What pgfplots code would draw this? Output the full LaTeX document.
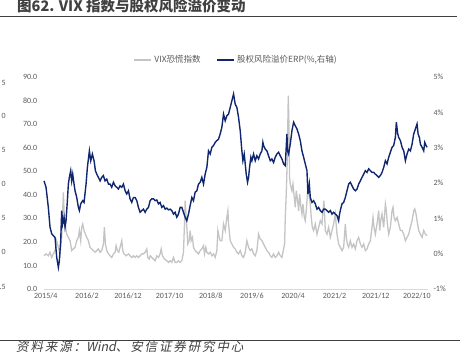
\documentclass[border=0pt]{standalone}
\usepackage{pgfplots}
\pgfplotsset{compat=1.18}
\usepackage{fontspec}
\setmainfont{Carlito}
\newfontfamily\cjk{Noto Sans CJK SC}
\newfontfamily\cjksrc[FakeSlant=0.2,LetterSpace=15]{Noto Sans CJK SC}
\newfontfamily\cjkslant[FakeSlant=0.2]{Noto Sans CJK SC}
\definecolor{navy}{RGB}{16,38,110}
\definecolor{vixgray}{RGB}{196,196,196}
\definecolor{tickgray}{RGB}{89,89,89}
\definecolor{rulegray}{RGB}{64,64,64}
\begin{document}
\begin{tikzpicture}[x=1pt,y=1pt]
\useasboundingbox (0,0) rectangle (464,355);
% title and rules
\node[anchor=base west,inner sep=0,text=rulegray] at (17,343) {\cjk\bfseries\fontsize{14.5}{16}\selectfont 图62. VIX 指数与股权风险溢价变动};
\draw[rulegray,line width=1.6pt] (0,338.5) -- (457,338.5);
\draw[rulegray,line width=1.6pt] (0,14.3) -- (460,14.3);
\node[anchor=base west,inner sep=0,text=rulegray] at (16,3) {\fontsize{12.5}{14}\selectfont{\cjksrc 资料来源：}{\cjkslant Wind}{\cjksrc 、安信证券研究中心}};
% cut-off labels of the neighbouring chart
\foreach \t/\yy in {5/272,0/239,5/205,0/171,5/137,0/103,.5/68}{
  \node[anchor=east,inner sep=0,text=tickgray,font=\fontsize{8}{9}\selectfont] at (6,\yy) {\t};
}
\begin{axis}[
  at={(44.3pt,66pt)}, anchor=south west,
  scale only axis, width=383.7pt, height=212pt,
  xmin=-0.66, xmax=92.6, ymin=0, ymax=90,
  axis x line*=bottom, axis y line*=left,
  x axis line style={draw={rgb,255:red,217;green,217;blue,217},line width=0.8pt,-},
  y axis line style={draw=none},
  major tick length=0pt,
  xtick={-0.3,9.7,19.7,29.8,39.8,49.8,59.8,69.9,79.9,89.9},
  xticklabels={2015/4,2016/2,2016/12,2017/10,2018/8,2019/6,2020/4,2021/2,2021/12,2022/10},
  ytick={0,10,...,90},
  /pgf/number format/assume math mode=true,
  /pgf/number format/fixed,
  /pgf/number format/fixed zerofill,
  /pgf/number format/precision=1,
  yticklabel style={xshift=-3.5pt},
  ticklabel style={font=\fontsize{8}{9}\selectfont,text=tickgray},
  xticklabel style={yshift=-0.5pt},
  clip=false,
]
\addplot[vixgray,line width=1.3pt] coordinates {
(-0.73,14.1)(-0.24,14.9)(0.32,14.1)(0.73,15.6)(1.14,13.4)(1.54,14.9)(1.95,16.3)(2.35,20.5)(2.76,17.7)(3.16,14.9)
(3.57,21.9)(3.81,33.2)(3.97,41.0)(4.14,33.2)(4.38,27.6)(4.79,23.3)(5.19,21.9)(5.6,20.5)(6.0,16.3)(6.41,17.0)
(6.81,17.7)(7.22,20.5)(7.62,21.9)(7.87,24.8)(8.19,20.5)(8.43,26.2)(8.68,27.6)(9.0,24.8)(9.33,23.3)(9.65,21.9)
(10.06,20.5)(10.46,17.7)(10.87,17.0)(11.27,16.3)(11.68,15.6)(12.09,16.3)(12.49,17.0)(12.9,15.6)(13.3,16.3)(13.71,19.1)
(13.95,26.2)(14.2,19.1)(14.52,16.3)(14.93,14.9)(15.33,14.1)(15.73,13.4)(16.14,14.9)(16.55,15.6)(16.79,18.4)(17.11,16.3)
(17.44,15.6)(17.76,17.7)(18.17,20.5)(18.41,16.3)(18.73,14.9)(19.22,14.1)(19.79,14.9)(20.19,14.1)(20.6,13.4)(21.0,14.1)
(21.41,13.4)(21.82,14.1)(22.22,13.4)(22.63,14.1)(23.04,14.9)(23.44,14.9)(23.84,15.6)(24.25,17.0)(24.49,13.4)(24.82,12.7)
(25.06,14.1)(25.47,13.4)(25.87,12.7)(26.28,12.0)(26.68,14.1)(27.09,13.4)(27.49,14.9)(27.74,17.0)(28.06,14.1)(28.55,12.7)
(29.12,12.0)(29.52,11.3)(29.93,12.0)(30.33,11.3)(30.74,13.4)(31.14,11.3)(31.55,11.3)(31.95,12.0)(32.36,11.3)(32.77,12.0)
(33.17,15.6)(33.41,27.6)(33.58,37.5)(33.82,30.4)(33.98,26.2)(34.22,19.1)(34.55,20.5)(34.79,24.8)(35.04,20.5)(35.36,21.9)
(35.6,17.7)(36.01,16.3)(36.42,15.6)(36.82,14.9)(37.23,16.3)(37.63,17.0)(38.04,18.4)(38.28,14.9)(38.61,17.7)(38.85,15.6)
(39.25,14.9)(39.66,15.6)(40.07,14.1)(40.47,14.9)(40.88,13.4)(41.28,16.3)(41.53,24.8)(41.85,21.9)(42.09,20.5)(42.5,20.5)
(42.75,24.8)(42.9,27.6)(43.31,24.8)(43.71,30.4)(43.96,33.2)(44.12,27.6)
(44.53,20.5)(44.93,19.1)(45.34,17.7)(45.74,17.0)(46.15,15.6)(46.55,14.9)(46.96,16.3)(47.36,14.1)(47.77,13.4)(48.18,15.6)
(48.58,20.5)(48.99,17.7)(49.39,16.3)(49.8,17.0)(50.2,14.9)(50.61,14.1)(51.01,16.3)(51.42,23.3)(51.82,21.2)(52.23,20.5)
(52.64,19.1)(53.04,17.7)(53.45,16.3)(53.85,15.6)(54.26,14.1)(54.66,13.4)(55.07,14.9)(55.47,13.4)(55.88,14.1)(56.29,15.6)
(56.69,14.1)(57.1,13.4)(57.5,17.0)(57.75,19.1)(57.91,30.4)(58.15,40.3)(58.39,54.5)(58.64,82.1)(58.8,70.0)(58.96,47.4)
(59.12,44.6)(59.53,41.7)(59.77,44.6)(60.1,38.9)(60.34,34.7)(60.58,41.7)(60.91,37.5)(61.15,33.2)(61.4,40.3)(61.72,34.7)
(61.96,31.8)(62.21,36.1)(62.53,30.4)(62.77,29.0)(63.02,33.2)(63.34,41.7)(63.67,40.3)(63.99,36.1)(64.23,30.4)(64.48,26.2)
(64.8,24.8)(65.21,27.6)(65.61,23.3)(66.02,26.2)(66.42,29.0)(66.83,27.6)(67.07,33.2)(67.31,37.5)
(67.64,24.8)(68.05,23.3)(68.45,26.2)(68.86,21.9)(69.26,24.8)(69.67,27.6)(70.07,31.8)(70.48,23.3)(70.88,19.1)(71.29,17.7)
(71.7,16.3)(72.1,17.7)(72.51,27.6)(72.75,21.9)(73.0,19.1)(73.32,17.7)(73.72,20.5)(74.13,17.7)(74.53,19.1)(74.94,17.0)
(75.35,20.5)(75.75,21.9)(76.16,19.1)(76.56,17.7)(76.97,19.1)(77.37,16.3)(77.78,17.0)(78.18,19.1)(78.59,20.5)(78.99,26.2)
(79.24,30.4)(79.48,26.2)(79.81,23.3)(80.21,27.6)(80.62,33.2)(80.86,24.8)(81.1,29.0)(81.43,31.8)(81.83,26.2)(82.24,36.1)
(82.48,33.2)(82.73,27.6)(83.05,23.3)(83.45,26.2)(83.86,33.2)(84.1,34.7)(84.35,30.4)(84.67,29.0)(85.08,30.4)(85.48,27.6)
(85.89,24.8)(86.3,24.8)(86.7,23.3)(87.11,20.5)(87.51,21.9)(87.92,23.3)(88.32,26.2)(88.73,29.0)(89.13,33.2)(89.38,34.0)
(89.7,31.8)(89.94,29.0)(90.35,24.8)(90.75,23.3)(91.16,21.9)(91.56,24.8)(91.97,23.3)(92.37,22.6)
};
\end{axis}
\begin{axis}[
  at={(44.3pt,66pt)}, anchor=south west,
  scale only axis, width=383.7pt, height=212pt,
  xmin=-0.66, xmax=92.6, ymin=-1, ymax=5,
  hide x axis,
  axis y line*=right,
  y axis line style={draw=none},
  major tick length=0pt,
  ytick={-1,0,...,5},
  /pgf/number format/assume math mode=true,
  yticklabel={\pgfmathprintnumber{\tick}\%},
  yticklabel style={xshift=2pt},
  ticklabel style={font=\fontsize{8}{9}\selectfont,text=tickgray},
  legend columns=2,
  legend style={at={(0.5,1.08)},anchor=center,draw=none,fill=none,
    font=\cjk\fontsize{8.5}{10}\selectfont,text=tickgray,
    /tikz/every even column/.append style={column sep=14pt}},
  legend image code/.code={\draw[#1] (0pt,0pt) -- (17pt,0pt);},
  clip=false,
]
\addlegendimage{vixgray,line width=2pt}
\addlegendentry{VIX恐慌指数}
\addplot[navy,line width=1.4pt] coordinates {
(-0.73,2.06)(-0.24,1.88)(0.32,1.31)(0.73,0.75)(1.14,0.56)(1.54,0.51)(1.95,0.46)(2.35,-0.10)(2.76,-0.39)(3.0,-0.20)
(3.33,0.37)(3.57,1.22)(3.81,0.84)(4.14,1.03)(4.38,0.75)(4.62,0.93)(4.95,1.50)(5.19,1.97)(5.43,2.16)(5.76,2.35)
(6.0,2.06)(6.25,2.25)(6.57,1.97)(6.81,1.78)(7.22,1.59)(7.62,1.31)(7.87,1.22)(8.19,1.41)(8.68,1.50)(9.0,1.45)
(9.49,1.97)(9.81,2.44)(10.3,2.91)(10.63,2.63)(11.03,2.82)(11.44,2.63)(11.76,2.35)(12.09,2.25)(12.49,2.16)(12.9,2.06)
(13.3,2.16)(13.7,2.21)(14.1,2.06)(14.52,2.11)(14.93,1.97)(15.33,1.97)(15.73,1.88)(16.14,2.02)(16.55,1.92)(16.95,1.88)
(17.36,1.83)(17.76,1.92)(18.17,1.88)(18.57,1.97)(18.98,1.78)(19.38,1.69)(19.79,1.78)(20.19,1.55)(20.6,1.45)(21.0,1.59)
(21.41,1.59)(21.82,1.50)(22.22,1.31)(22.63,1.17)(23.04,1.22)(23.44,1.26)(23.84,1.17)(24.25,1.26)(24.66,1.31)(25.06,1.50)
(25.47,1.55)(25.87,1.55)(26.28,1.50)(26.68,1.52)(27.09,1.41)(27.49,1.45)(27.9,1.31)(28.3,1.36)(28.71,1.26)(29.12,1.29)
(29.52,1.24)(29.93,1.26)(30.33,1.22)(30.74,1.12)(31.14,1.17)(31.55,1.03)(31.95,1.12)(32.36,1.31)(32.77,1.31)(33.17,1.17)
(33.58,1.03)(33.98,0.93)(34.39,1.12)(34.79,1.36)(35.2,1.59)(35.6,1.50)(36.01,1.74)(36.42,1.78)(36.82,1.97)(37.23,2.02)
(37.63,2.16)(38.04,1.97)(38.44,2.25)(38.85,2.44)(39.25,2.91)(39.66,2.82)(40.07,3.01)(40.47,3.06)(40.88,3.15)(41.28,3.20)
(41.69,3.24)(42.09,3.39)(42.5,3.58)(42.9,3.95)(43.31,3.76)(43.71,3.90)(44.12,3.95)
(44.53,4.14)(44.93,4.33)(45.34,4.52)(45.74,4.23)(46.15,4.14)(46.55,3.86)(46.96,3.48)(47.36,2.91)(47.61,2.63)(47.93,2.82)
(48.18,2.54)(48.42,2.25)(48.74,2.02)(48.99,2.16)(49.23,2.44)(49.55,2.73)(49.8,2.63)(50.2,2.82)(50.61,2.63)(51.01,2.77)
(51.42,2.68)(51.82,2.82)(52.23,2.91)(52.47,3.15)(52.64,3.06)(53.04,2.96)(53.45,2.91)(53.85,2.77)(54.26,2.63)(54.66,2.68)
(55.07,2.58)(55.47,2.73)(55.88,2.82)(56.29,2.87)(56.69,2.77)(57.1,2.68)(57.5,2.54)(57.91,2.49)(58.31,3.39)(58.47,2.91)
(58.72,2.82)(59.12,3.10)(59.53,3.48)(59.94,3.72)(60.34,3.62)(60.75,3.53)(61.15,3.39)(61.56,3.20)(61.96,2.91)(62.37,2.73)
(62.77,2.54)(63.18,2.35)(63.42,1.69)(63.75,1.97)(63.99,1.59)(64.4,1.45)(64.8,1.50)(65.21,1.41)(65.61,1.26)(66.02,1.31)
(66.42,1.22)(66.83,1.17)(67.23,1.26)
(67.64,1.26)(68.05,1.22)(68.45,1.17)(68.86,1.22)(69.26,1.12)(69.67,1.17)(70.07,1.12)(70.48,1.08)(70.88,0.93)(71.05,1.08)
(71.29,1.22)(71.7,1.41)(72.1,1.45)(72.51,1.59)(72.91,1.78)(73.32,1.97)(73.72,2.02)(74.13,1.92)(74.53,1.83)(74.94,1.78)
(75.35,1.83)(75.75,1.97)(76.16,2.06)(76.56,2.16)(76.97,2.25)(77.37,2.35)(77.78,2.30)(78.18,2.40)(78.59,2.35)(78.99,2.30)
(79.4,2.30)(79.81,2.25)(80.21,2.21)(80.62,2.16)(81.02,2.21)(81.43,2.30)(81.83,2.44)(82.24,2.63)(82.64,2.54)(83.05,2.73)
(83.45,2.87)(83.86,3.01)(84.26,3.06)(84.67,3.29)(84.91,3.72)(85.24,3.39)(85.48,3.29)(85.89,3.20)(86.3,3.01)(86.7,2.91)
(87.11,2.63)(87.51,2.82)(87.92,2.96)(88.32,2.91)(88.73,3.10)(89.13,3.39)(89.54,3.53)(89.94,3.67)(90.19,3.39)(90.51,3.29)
(90.75,3.10)(91.16,3.01)(91.56,2.91)(91.81,3.15)(92.13,3.06)(92.37,3.01)
};
\addlegendentry{股权风险溢价ERP(\%,右轴)}
\end{axis}
\end{tikzpicture}
\end{document}
